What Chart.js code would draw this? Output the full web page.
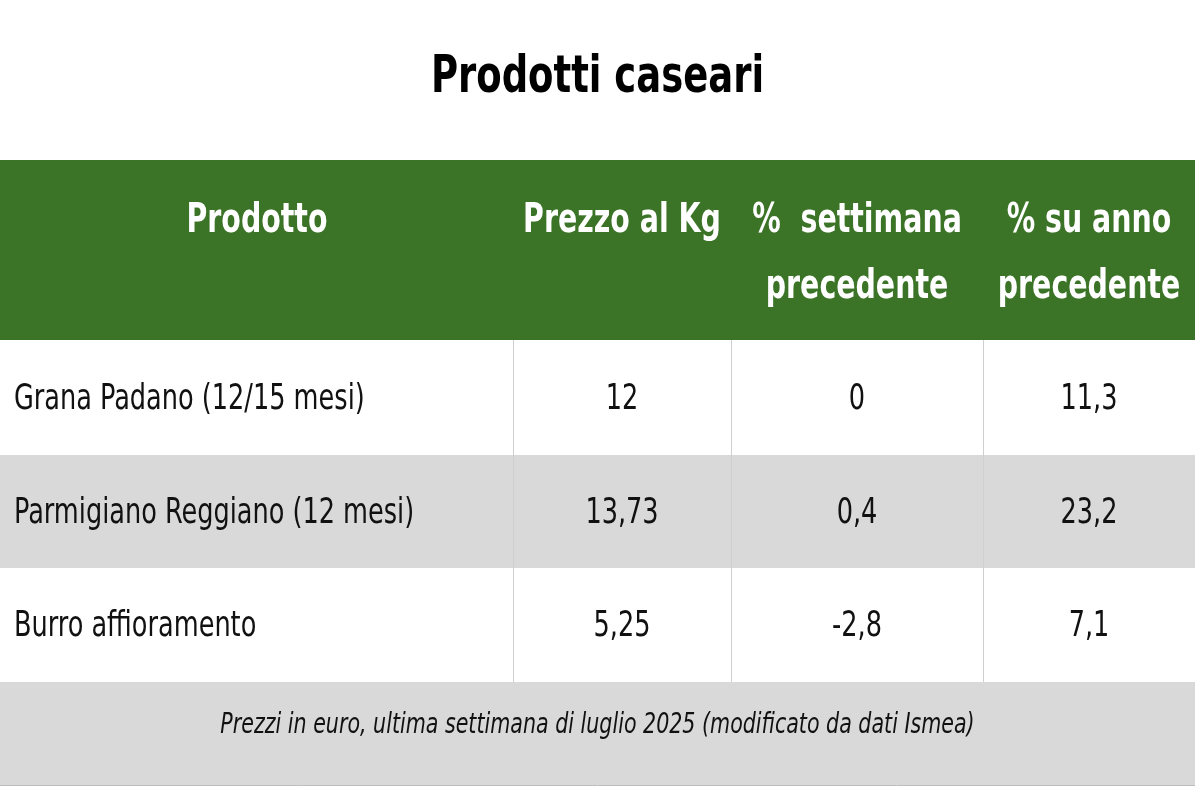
<!DOCTYPE html>
<html><head><meta charset="utf-8">
<script src="https://cdn.jsdelivr.net/npm/chart.js@4"></script>
<style>html,body{margin:0;background:#fff}#w{width:1200px;height:800px}</style>
</head><body><div id="w"><canvas id="c"></canvas></div>
<script>
const title = "Prodotti caseari";
const headers = [["Prodotto"], ["Prezzo al Kg"], ["%  settimana", "precedente"], ["% su anno", "precedente"]];
const products = ["Grana Padano (12/15 mesi)", "Parmigiano Reggiano (12 mesi)", "Burro affioramento"];
const prices = ["12", "13,73", "5,25"];
const weekChange = ["0", "0,4", "-2,8"];
const yearChange = ["11,3", "23,2", "7,1"];
const note = "Prezzi in euro, ultima settimana di luglio 2025 (modificato da dati Ismea)";

const FONT = "'Liberation Sans Narrow','DejaVu Sans Condensed','Liberation Sans',sans-serif";
const SQ = 0.79;
const colEdges = [0, 513, 731, 983, 1195];
const rowEdges = [0, 180, 295, 408, 522, 625];

function narrow(ctx, t, x, y, align) {
  ctx.save();
  ctx.translate(x, y); ctx.scale(SQ, 1);
  ctx.textAlign = align; ctx.fillText(t, 0, 0);
  ctx.restore();
}

const tablePlugin = {
  id: 'table',
  beforeDatasetsDraw(chart) {
    const ctx = chart.ctx, xs = chart.scales.x, ys = chart.scales.y;
    const X = v => xs.getPixelForValue(v), Y = v => ys.getPixelForValue(v);
    const rows = products.map((p, i) => [p, prices[i], weekChange[i], yearChange[i]]);
    ctx.save();
    ctx.textBaseline = 'middle';
    // title
    ctx.fillStyle = '#000'; ctx.font = "bold 52px " + FONT;
    narrow(ctx, title, (X(0) + X(colEdges[4])) / 2, Y(rowEdges[0]) - 82, 'center');
    // header
    ctx.fillStyle = '#3b7327';
    ctx.fillRect(X(0), Y(rowEdges[0]), X(colEdges[4]) - X(0), Y(rowEdges[1]) - Y(rowEdges[0]));
    ctx.fillStyle = '#fff';
    ctx.font = "bold 40px " + FONT;
    headers.forEach((h, c) => {
      const cx = c === 0 ? X(257) : (X(colEdges[c]) + X(colEdges[c + 1])) / 2;
      const cy = (Y(rowEdges[0]) + Y(rowEdges[1])) / 2;
      const off = h.length === 1 ? [-28] : [-28, 38];
      h.forEach((t, k) => narrow(ctx, t, cx, cy + off[k], 'center'));
    });
    // body rows
    rows.forEach((r, i) => {
      const y0 = Y(rowEdges[i + 1]), y1 = Y(rowEdges[i + 2]);
      ctx.fillStyle = i % 2 === 1 ? '#d9d9d9' : '#ffffff';
      ctx.fillRect(X(0), y0, X(colEdges[4]) - X(0), y1 - y0);
      ctx.strokeStyle = '#cfcfcf'; ctx.lineWidth = 1;
      for (let c = 1; c < 4; c++) { ctx.beginPath(); ctx.moveTo(X(colEdges[c]) + 0.5, y0); ctx.lineTo(X(colEdges[c]) + 0.5, y1); ctx.stroke(); }
      ctx.fillStyle = '#111'; ctx.font = "36px " + FONT;
      r.forEach((t, c) => {
        if (c === 0) narrow(ctx, t, X(colEdges[0]) + 14, (y0 + y1) / 2 + 2, 'left');
        else narrow(ctx, t, (X(colEdges[c]) + X(colEdges[c + 1])) / 2, (y0 + y1) / 2 + 2, 'center');
      });
      ctx.strokeStyle = '#bdbdbd';
      ctx.beginPath(); ctx.moveTo(X(0), y1 + 0.5); ctx.lineTo(X(colEdges[4]), y1 + 0.5); ctx.stroke();
    });
    // note row
    const n0 = Y(rowEdges[4]), n1 = Y(rowEdges[5]);
    ctx.fillStyle = '#d9d9d9'; ctx.fillRect(X(0), n0, X(colEdges[4]) - X(0), n1 - n0);
    ctx.fillStyle = '#111'; ctx.font = "italic 29px " + FONT;
    narrow(ctx, note, X(colEdges[4]) / 2, (n0 + n1) / 2 - 8, 'center');
    ctx.strokeStyle = '#bdbdbd';
    ctx.beginPath(); ctx.moveTo(X(0), n1 + 0.5); ctx.lineTo(X(colEdges[4]), n1 + 0.5); ctx.stroke();
    ctx.restore();
  }
};

new Chart(document.getElementById('c'), {
  type: 'scatter',
  data: { datasets: [{ data: [] }] },
  plugins: [tablePlugin],
  options: {
    responsive: true, maintainAspectRatio: false, animation: false,
    layout: { padding: { left: 0, right: 5, top: 0, bottom: 15 } },
    scales: {
      x: { type: 'linear', min: 0, max: 1195, display: false },
      y: { type: 'linear', min: 0, max: 625, reverse: true, display: false }
    },
    plugins: {
      legend: { display: false }, tooltip: { enabled: false },
      title: { display: true, text: title, color: 'rgba(0,0,0,0)',
        font: { family: FONT, size: 50, weight: 'bold', lineHeight: 1.2 },
        padding: { top: 48, bottom: 52 } }
    }
  }
});
</script></body></html>
